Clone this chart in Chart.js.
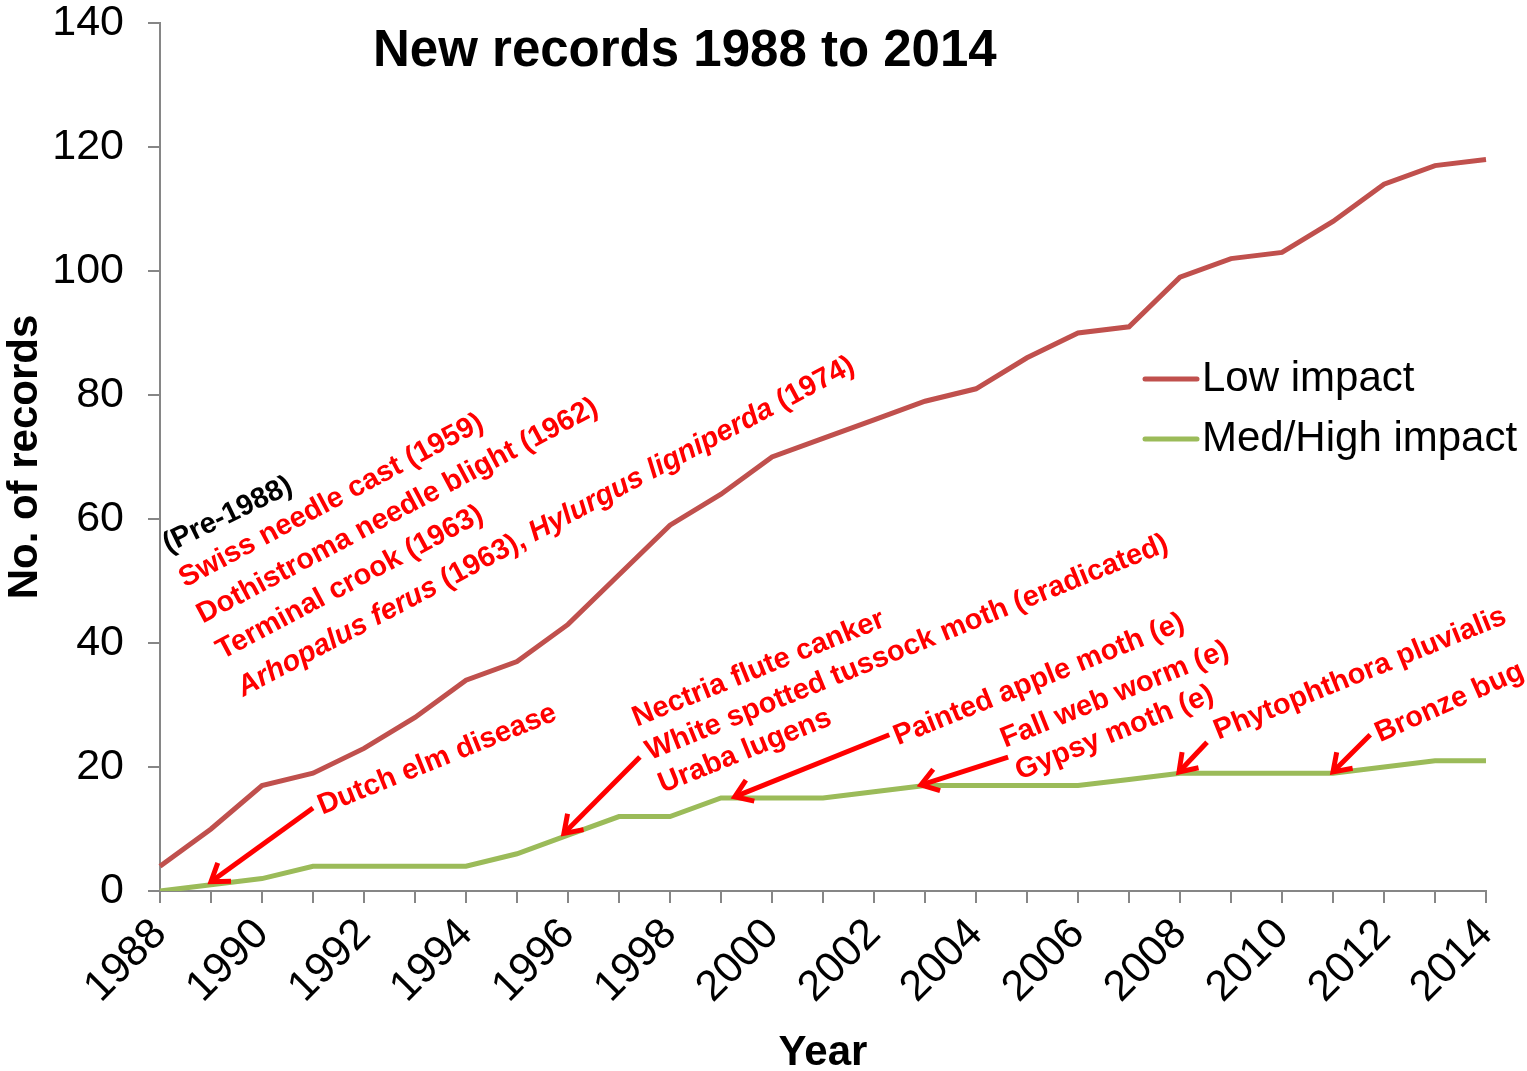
<!DOCTYPE html>
<html>
<head>
<meta charset="utf-8">
<title>New records 1988 to 2014</title>
<script src="https://cdn.jsdelivr.net/npm/chart.js@4.4.1/dist/chart.umd.min.js"></script>
<style>
  html, body { margin: 0; padding: 0; background: #fff; }
  #wrap { width: 1527px; height: 1071px; }
</style>
</head>
<body>
<div id="wrap"><canvas id="chart"></canvas></div>
<script>
// ── Data ────────────────────────────────────
const years = ["1988","1989","1990","1991","1992","1993","1994","1995","1996","1997",
  "1998","1999","2000","2001","2002","2003","2004","2005","2006","2007",
  "2008","2009","2010","2011","2012","2013","2014"];
const lowImpact = [4,10,17,19,23,28,34,37,43,51,59,64,70,73,76,79,81,86,90,91,99,102,103,108,114,117,118];
const medHighImpact = [0,1,2,4,4,4,4,6,9,12,12,15,15,15,16,17,17,17,17,18,19,19,19,19,20,21,21];
const seriesNames = ["Low impact", "Med/High impact"];

// annotation texts; x = category index, y = value (bottom-left of rotated text), a = angle in degrees
const notes = [
  { x: 0.16, y: 54.5, a: 26, color: "#000", parts: [["(Pre-1988)", ""]] },
  { x: 0.49, y: 48.9, a: 28, parts: [["Swiss needle cast (1959)", ""]] },
  { x: 0.84, y: 43.1, a: 28, parts: [["Dothistroma needle blight (1962)", ""]] },
  { x: 1.22, y: 37.3, a: 28, parts: [["Terminal crook (1963)", ""]] },
  { x: 1.63, y: 31.3, a: 28, parts: [["Arhopalus ferus", "italic "], [" (1963), ", ""], ["Hylurgus ligniperda", "italic "], [" (1974)", ""]] },
  { x: 3.18, y: 12.3, a: 22, parts: [["Dutch elm disease", ""]] },
  { x: 9.35, y: 26.5, a: 22, parts: [["Nectria flute canker", ""]] },
  { x: 9.61, y: 21.1, a: 22, parts: [["White spotted tussock moth (eradicated)", ""]] },
  { x: 9.86, y: 15.8, a: 22, parts: [["Uraba lugens", ""]] },
  { x: 14.47, y: 23.5, a: 22, parts: [["Painted apple moth (e)", ""]] },
  { x: 16.57, y: 23.1, a: 22, parts: [["Fall web worm (e)", ""]] },
  { x: 16.86, y: 17.9, a: 22, parts: [["Gypsy moth (e)", ""]] },
  { x: 20.75, y: 24.4, a: 22, parts: [["Phytophthora pluvialis", ""]] },
  { x: 23.92, y: 24.0, a: 24, parts: [["Bronze bug", ""]] }
];

// arrows: tail -> tip, in category index / value units
const arrows = [
  { x0: 3.0,   y0: 13.4, x1: 1.0,   y1: 1.5 },
  { x0: 9.41,  y0: 21.6, x1: 7.92,  y1: 9.3 },
  { x0: 14.3,  y0: 25.2, x1: 11.27, y1: 15.2 },
  { x0: 16.63, y0: 21.6, x1: 14.92, y1: 17.1 },
  { x0: 20.53, y0: 24.0, x1: 19.98, y1: 19.2 },
  { x0: 23.73, y0: 25.2, x1: 23.0,  y1: 19.2 }
];

const RED = "#ff0000";
const LOW = "#c0504d";
const MED = "#9bbb59";
const AXIS = "#868686";
const FONT = "'Liberation Sans', Arial, sans-serif";
const NOTE_SIZE = 29;

// ── Drawing plugin ──────────────────────────
const extras = {
  id: "extras",
  afterDatasetsDraw(chart) {
    const { ctx, scales: { x, y } } = chart;

    // arrows
    ctx.save();
    ctx.strokeStyle = RED;
    ctx.lineWidth = 5;
    ctx.lineCap = "butt";
    ctx.lineJoin = "miter";
    arrows.forEach(a => {
      const px0 = x.getPixelForValue(a.x0), py0 = y.getPixelForValue(a.y0);
      const px1 = x.getPixelForValue(a.x1), py1 = y.getPixelForValue(a.y1);
      const ang = Math.atan2(py1 - py0, px1 - px0);
      const head = 20, spread = 0.6;
      ctx.beginPath();
      ctx.moveTo(px0, py0);
      ctx.lineTo(px1 - Math.cos(ang) * 3, py1 - Math.sin(ang) * 3);
      ctx.stroke();
      ctx.beginPath();
      ctx.moveTo(px1 - head * Math.cos(ang - spread), py1 - head * Math.sin(ang - spread));
      ctx.lineTo(px1, py1);
      ctx.lineTo(px1 - head * Math.cos(ang + spread), py1 - head * Math.sin(ang + spread));
      ctx.stroke();
    });
    ctx.restore();

    // rotated notes
    notes.forEach(n => {
      ctx.save();
      ctx.translate(x.getPixelForValue(n.x), y.getPixelForValue(n.y));
      ctx.rotate(-n.a * Math.PI / 180);
      ctx.fillStyle = n.color || RED;
      ctx.textBaseline = "alphabetic";
      ctx.textAlign = "left";
      let cx = 0;
      n.parts.forEach(([txt, style]) => {
        ctx.font = style + "bold " + NOTE_SIZE + "px " + FONT;
        ctx.fillText(txt, cx, 0);
        cx += ctx.measureText(txt).width;
      });
      ctx.restore();
    });
  },
  afterDraw(chart) {
    const { ctx, chartArea } = chart;
    ctx.save();
    // title
    ctx.fillStyle = "#000";
    ctx.font = "bold 51px " + FONT;
    ctx.textAlign = "left";
    ctx.textBaseline = "middle";
    ctx.fillText("New records 1988 to 2014", chartArea.left + 213, chartArea.top + 29);

    // legend
    const lx = chartArea.right - 341, colors = [LOW, MED];
    ctx.font = "42px " + FONT;
    seriesNames.forEach((name, i) => {
      const ly = chartArea.top + 356 + i * 60;
      ctx.strokeStyle = colors[i];
      ctx.lineWidth = 5;
      ctx.lineCap = "round";
      ctx.beginPath();
      ctx.moveTo(lx, ly);
      ctx.lineTo(lx + 52, ly);
      ctx.stroke();
      ctx.fillStyle = "#000";
      ctx.fillText(name, lx + 57, ly);
    });
    ctx.restore();
  }
};

// ── Chart ───────────────────────────────────
new Chart(document.getElementById("chart"), {
  type: "line",
  data: {
    labels: years,
    datasets: [
      { label: seriesNames[0], data: lowImpact, borderColor: LOW, borderWidth: 5, pointRadius: 0, tension: 0, fill: false },
      { label: seriesNames[1], data: medHighImpact, borderColor: MED, borderWidth: 5, pointRadius: 0, tension: 0, fill: false }
    ]
  },
  options: {
    responsive: true,
    maintainAspectRatio: false,
    animation: false,
    layout: { padding: { top: 23, right: 41, left: 0, bottom: 0 } },
    plugins: {
      legend: { display: false },
      tooltip: { enabled: false }
    },
    scales: {
      x: {
        offset: false,
        afterFit: s => { s.height = 180; s.paddingLeft = 0; s.paddingRight = 0; },
        grid: { drawOnChartArea: false, drawTicks: true, tickLength: 12, color: AXIS, lineWidth: 2 },
        border: { color: AXIS, width: 2 },
        ticks: {
          autoSkip: false,
          maxRotation: 45,
          minRotation: 45,
          padding: 6,
          color: "#000",
          font: { family: FONT, size: 43 },
          callback: (v, i) => (i % 2 === 0 ? years[i] : "")
        },
        title: { display: true, text: "Year", color: "#000", padding: { top: 0, bottom: -8 }, font: { family: FONT, size: 42, weight: "bold" } }
      },
      y: {
        min: 0,
        max: 140,
        afterFit: s => { s.width = 160; s.paddingTop = 0; s.paddingBottom = 0; },
        grid: { drawOnChartArea: false, drawTicks: true, tickLength: 12, color: AXIS, lineWidth: 2 },
        border: { color: AXIS, width: 2 },
        ticks: {
          stepSize: 20,
          padding: 24,
          color: "#000",
          font: { family: FONT, size: 43 }
        },
        title: { display: true, text: "No. of records", color: "#000", padding: 0, font: { family: FONT, size: 42, weight: "bold" } }
      }
    }
  },
  plugins: [extras]
});
</script>
</body>
</html>
